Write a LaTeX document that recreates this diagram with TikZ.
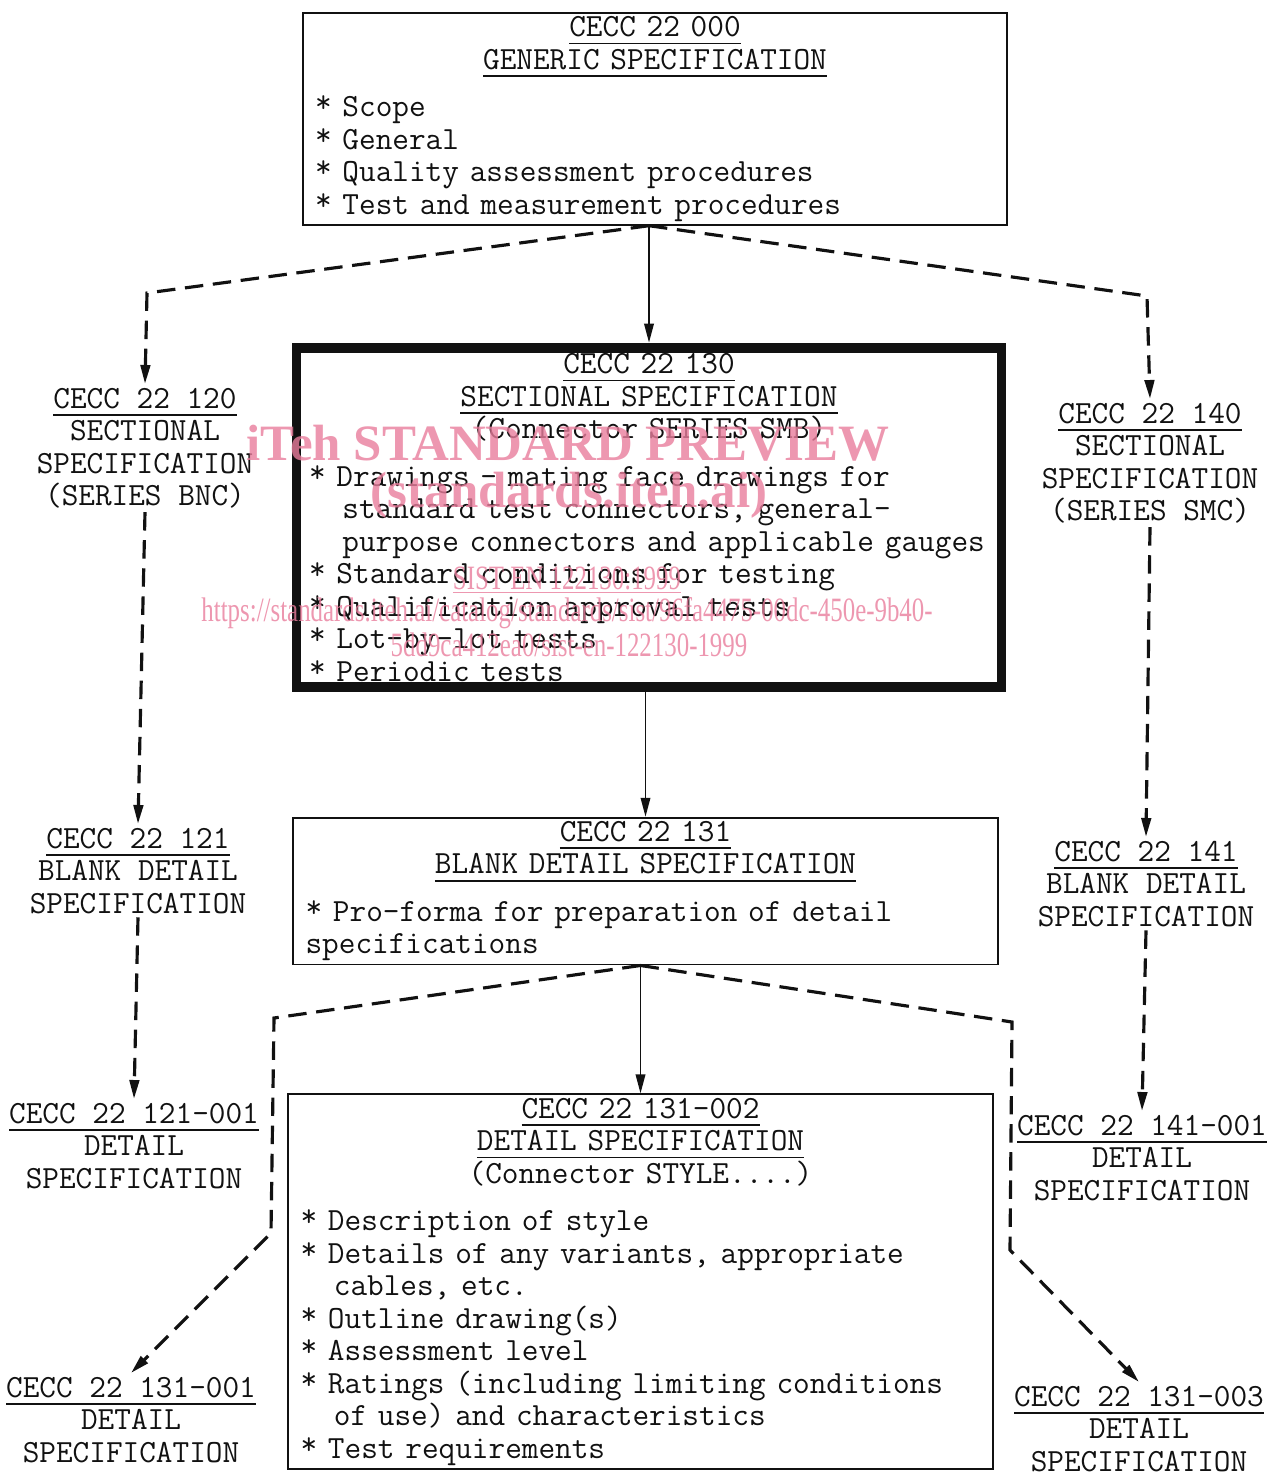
\documentclass[tikz,border=0pt]{standalone}
\usepackage{fontspec}
\usepackage{graphicx}
\usetikzlibrary{arrows.meta,positioning}
\newfontfamily\wmserif{Liberation Serif}
\definecolor{specink}{HTML}{111111}
\definecolor{wmpink}{HTML}{E97D9C}
\newcommand\spectt{\fontsize{18.4pt}{18.5pt}\selectfont\ttfamily\frenchspacing}
\newsavebox\ttlbox
\newcommand\ttl[1]{\leavevmode\sbox\ttlbox{#1}\rlap{\rule[-0.24em]{\wd\ttlbox}{1pt}}\usebox\ttlbox}
\newcommand\itm[1]{\par\hangindent=2\fontcharwd\font`\*\hangafter=1\noindent\raisebox{0.12em}{*}\ #1}
\newcommand\wmthin[1]{\scalebox{0.73}[1]{#1}}

\begin{document}
\begin{tikzpicture}[x=0.02cm,y=-0.02cm,line join=miter,
  font=\spectt,text=specink,
  specbox/.style={draw=specink,line width=1.1pt,text width=13.6cm,inner xsep=0.25cm,
    inner ysep=0.07cm,align=left},
  secbox/.style={specbox,line width=5.6pt,inner ysep=0.12cm},
  tag/.style={align=center,inner sep=2pt,anchor=north},
  link/.style={-{Triangle[length=0.38cm,width=0.19cm]},line width=1.1pt,specink},
  dlink/.style={link,line width=1.8pt,dash pattern=on 10.5pt off 5.5pt},
  wmbig/.style={font=\wmserif\bfseries\fontsize{29pt}{30pt}\selectfont,text=wmpink,text opacity=0.8},
  wmsmall/.style={font=\wmserif\fontsize{19.4pt}{20pt}\selectfont,text=wmpink,text opacity=0.8}]
\useasboundingbox (0,0) rectangle (1277,1473);

% main chain
\node[specbox,anchor=north] (gen) at (655,12) {%
  \centering\ttl{CECC 22 000}\\\ttl{GENERIC SPECIFICATION}\par
  \vspace{8.5pt}\raggedright
  \itm{Scope}
  \itm{General}
  \itm{Quality assessment procedures}
  \itm{Test and measurement procedures}};
\node[secbox,below=23.4mm of gen,xshift=-0.12cm] (sec) {%
  \centering\ttl{CECC 22 130}\\\ttl{SECTIONAL SPECIFICATION}\\(Connector SERIES SMB)\par
  \vspace{8.5pt}\raggedright
  \itm{Drawings - mating face drawings for\newline standard test connectors, general-\newline purpose connectors and applicable gauges}
  \itm{Standard conditions for testing}
  \itm{Qualification approval tests}
  \itm{Lot-by-lot tests}
  \itm{Periodic tests}};
\node[specbox,below=24.9mm of sec,xshift=-0.07cm] (bds) {%
  \centering\ttl{CECC 22 131}\\\ttl{BLANK DETAIL SPECIFICATION}\par
  \vspace{8.5pt}\raggedright
  \itm{Pro-forma for preparation of detail\newline specifications}};
\node[specbox,below=25.6mm of bds,xshift=-0.1cm] (ds) {%
  \centering\ttl{CECC 22 131-002}\\\ttl{DETAIL SPECIFICATION}\\(Connector STYLE....)\par
  \vspace{8.5pt}\raggedright
  \itm{Description of style}
  \itm{Details of any variants, appropriate\newline cables, etc.}
  \itm{Outline drawing(s)}
  \itm{Assessment level}
  \itm{Ratings (including limiting conditions\newline of use) and characteristics}
  \itm{Test requirements}};

% side columns
\node[tag] (bnc) at (145,384) {\ttl{CECC 22 120}\\SECTIONAL\\SPECIFICATION\\(SERIES BNC)};
\node[tag] (bncbd) at (138,824) {\ttl{CECC 22 121}\\BLANK DETAIL\\SPECIFICATION};
\node[tag] (bncds) at (134,1099) {\ttl{CECC 22 121-001}\\DETAIL\\SPECIFICATION};
\node[tag] (ds1) at (131,1373) {\ttl{CECC 22 131-001}\\DETAIL\\SPECIFICATION};
\node[tag] (smc) at (1150,399) {\ttl{CECC 22 140}\\SECTIONAL\\SPECIFICATION\\(SERIES SMC)};
\node[tag] (smcbd) at (1146,837) {\ttl{CECC 22 141}\\BLANK DETAIL\\SPECIFICATION};
\node[tag] (smcds) at (1142,1111) {\ttl{CECC 22 141-001}\\DETAIL\\SPECIFICATION};
\node[tag] (ds3) at (1139,1382) {\ttl{CECC 22 131-003}\\DETAIL\\SPECIFICATION};

% connectors
\draw[link] (sec.north |- gen.south) -- (sec.north);
\draw[link] (bds.north |- sec.south) -- (bds.north);
\draw[link] (ds.north |- bds.south) -- (ds.north);
\draw[dlink] (sec.north |- gen.south) -- (147,293) -- (bnc.north);
\draw[dlink] (sec.north |- gen.south) -- (1147,296) -- (smc.north);
\draw[dlink] (bnc.south) -- (bncbd.north);
\draw[dlink] (bncbd.south) -- (bncds.north);
\draw[dlink] (smc.south) -- (smcbd.north);
\draw[dlink] (smcbd.south) -- (smcds.north);
\draw[dlink] (ds.north |- bds.south) -- (274,1018) -- (271,1233) -- (ds1.north);
\draw[dlink] (ds.north |- bds.south) -- (1012,1022) -- (1010,1250) -- (ds3.north);

% watermark
\node[wmbig] (wmhead) at (568,443) {iTeh STANDARD PREVIEW};
\node[wmbig] (wmsite) at (569,495) {(standards.iteh.ai)};
\node[wmsmall] (wmcode) at (567,580) {\wmthin{\underline{SIST EN 122130:1999}}};
\node[wmsmall] (wmurl) at (567,613) {\wmthin{https://standards.iteh.ai/catalog/standards/sist/96fa4475-00dc-450e-9b40-}};
\node[wmsmall] (wmurlb) at (569,645) {\wmthin{5dd9ca412ea0/sist-en-122130-1999}};
\end{tikzpicture}
\end{document}
